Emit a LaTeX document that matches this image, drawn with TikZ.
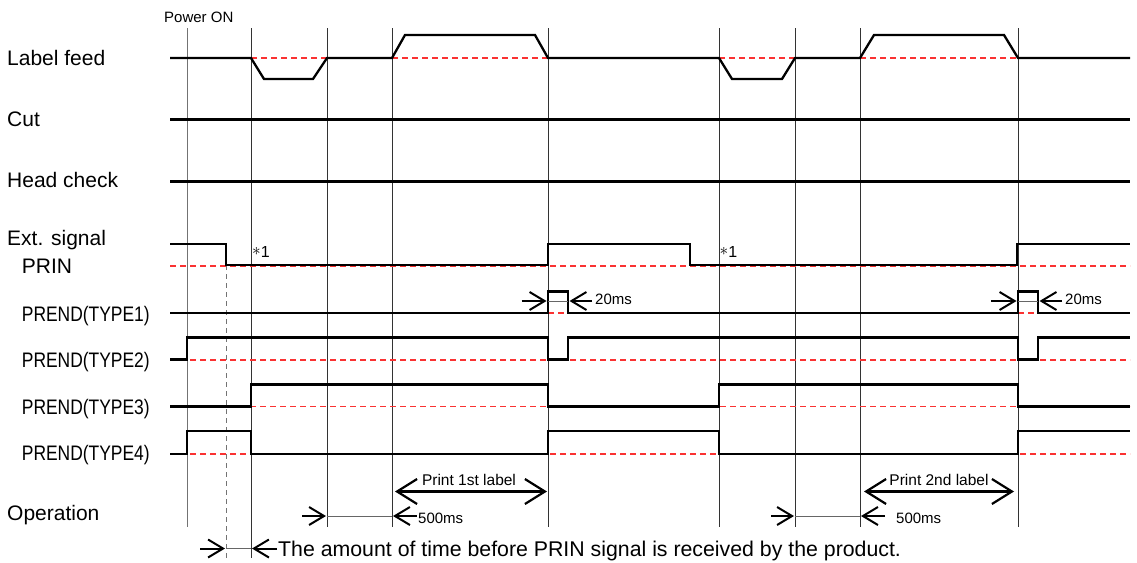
\documentclass[tikz,border=0pt]{standalone}
\usepackage{graphicx}
\usepackage{fontspec}
\setmainfont{Liberation Sans}
\usetikzlibrary{arrows.meta}
\definecolor{refred}{RGB}{250,50,50}
\begin{document}
\begin{tikzpicture}[x=1pt,y=-1pt,
  grid/.style={line width=0.9pt,black!80},
  gridg/.style={line width=0.9pt,black!55},
  sig/.style={line width=2.3pt,black,line join=miter},
  refl/.style={line width=1.2pt,refred,dash pattern=on 6pt off 4pt},
  dimln/.style={line width=0.8pt,black!60},
  arr/.style={line width=2pt,-{Straight Barb[length=15pt,width=18pt]}},
  bigarr/.style={line width=2.2pt,{Straight Barb[length=20pt,width=25pt]}-{Straight Barb[length=20pt,width=25pt]}},
  lab/.style={inner sep=0pt,anchor=base west,font=\fontsize{21}{24}\selectfont},
  small/.style={inner sep=0pt,anchor=base west,font=\fontsize{15}{18}\selectfont},
  star/.style={inner sep=0pt,anchor=base west,font=\fontsize{16}{18}\selectfont},
  plab/.style={inner sep=0pt,anchor=base,font=\fontsize{15.5}{18}\selectfont}]
\useasboundingbox (0,0) rectangle (1137,562);
% grid lines
\draw[gridg] (187,28) -- (187,527);
\draw[grid] (251,28) -- (251,558);
\foreach \x in {327,392,548,719,795,860,1018}{\draw[grid] (\x,28) -- (\x,527);}
\draw[line width=0.9pt,black!55,dash pattern=on 5pt off 4pt] (226,265) -- (226,560);
% reference (red dashed) lines
\draw[refl] (251,58) -- (327,58) (392,58) -- (548,58) (719,58) -- (795,58) (860,58) -- (1018,58);
\draw[refl] (170,266) -- (1130,266);
\draw[refl] (548,313) -- (568,313) (1018,313) -- (1038,313);
\draw[refl] (170,360) -- (1130,360);
\draw[refl] (170,406.5) -- (1130,406.5);
\draw[refl] (170,454) -- (1130,454);
% signals
\draw[sig] (170,58) -- (251,58) -- (264,79) -- (313,79) -- (327,58) -- (392,58) -- (405,35) -- (535,35) -- (548,58) -- (719,58) -- (732,79) -- (782,79) -- (795,58) -- (860,58) -- (874,35) -- (1004,35) -- (1018,58) -- (1130,58);
\draw[sig] (170,119.5) -- (1130,119.5);
\draw[sig] (170,181.5) -- (1130,181.5);
\draw[sig] (170,244) -- (226,244) -- (226,265) -- (548,265) -- (548,244) -- (690,244) -- (690,265) -- (1017,265) -- (1017,244) -- (1130,244);
\draw[sig] (170,313) -- (548,313) -- (548,291.5) -- (568,291.5) -- (568,313) -- (1018,313) -- (1018,291.5) -- (1038,291.5) -- (1038,313) -- (1130,313);
\draw[sig] (170,359.5) -- (187,359.5) -- (187,337.5) -- (548,337.5) -- (548,359.5) -- (568,359.5) -- (568,337.5) -- (1018,337.5) -- (1018,359.5) -- (1038,359.5) -- (1038,337.5) -- (1130,337.5);
\draw[sig] (170,406.5) -- (251,406.5) -- (251,384.5) -- (548,384.5) -- (548,406.5) -- (719,406.5) -- (719,384.5) -- (1018,384.5) -- (1018,406.5) -- (1130,406.5);
\draw[sig] (170,453.7) -- (187,453.7) -- (187,431.3) -- (251,431.3) -- (251,453.7) -- (548,453.7) -- (548,431.3) -- (719,431.3) -- (719,453.7) -- (1018,453.7) -- (1018,431.3) -- (1130,431.3);
% labels
\node[small] (pon) at (164,22.7) {Power ON};
\node[lab] (lf) at (7,65) {Label feed};
\node[lab] (cut) at (7,126.7) {Cut};
\node[lab] (hc) at (7,187.5) {Head check};
\node[lab] (ext) at (7,245) {Ext. signal};
\node[lab] (prin) at (21.7,273) {PRIN};
\node[lab] (t1) at (21.7,321) {\scalebox{0.83}[1]{PREND(TYPE1)}};
\node[lab] (t2) at (21.7,367.5) {\scalebox{0.83}[1]{PREND(TYPE2)}};
\node[lab] (t3) at (21.7,414) {\scalebox{0.83}[1]{PREND(TYPE3)}};
\node[lab] (t4) at (21.7,460.5) {\scalebox{0.83}[1]{PREND(TYPE4)}};
\node[lab] (op) at (7,520) {Operation};
\node[star] (s1a) at (252,257) {\raisebox{1.5pt}{$\ast$}1};
\node[star] (s1b) at (719.5,257) {\raisebox{1.5pt}{$\ast$}1};
% 20ms pulses
\draw[dimln] (548,301) -- (568,301) (1018,301) -- (1038,301);
\coordinate (p1l) at (521.5,301); \coordinate (p1a) at (546.5,301);
\coordinate (p1b) at (569.5,301); \coordinate (p1r) at (592,301);
\draw[arr] (p1l) -- (p1a);
\draw[arr] (p1r) -- (p1b);
\node[small] (ms1) at (595,304.5) {20ms};
\coordinate (p2l) at (991,301); \coordinate (p2a) at (1016.5,301);
\coordinate (p2b) at (1039.5,301); \coordinate (p2r) at (1062,301);
\draw[arr] (p2l) -- (p2a);
\draw[arr] (p2r) -- (p2b);
\node[small] (ms2) at (1065,304.5) {20ms};
% operation
\coordinate (pr1a) at (395,491.5); \coordinate (pr1b) at (547,491.5);
\draw[bigarr] (pr1a) -- (pr1b);
\node[plab] (pl1) at (469,485.5) {Print 1st label};
\coordinate (pr2a) at (864,491.5); \coordinate (pr2b) at (1014,491.5);
\draw[bigarr] (pr2a) -- (pr2b);
\node[plab] (pl2) at (939,485.5) {Print 2nd label};
\draw[dimln] (327,516) -- (392,516) (795,516) -- (860,516);
\coordinate (d1l) at (302,516); \coordinate (d1a) at (326,516);
\coordinate (d1b) at (393,516); \coordinate (d1r) at (416.5,516);
\draw[arr] (d1l) -- (d1a);
\draw[arr] (d1r) -- (d1b);
\node[small] (m500a) at (418,523) {500ms};
\coordinate (d2l) at (771,516); \coordinate (d2a) at (794,516);
\coordinate (d2b) at (861,516); \coordinate (d2r) at (885,516);
\draw[arr] (d2l) -- (d2a);
\draw[arr] (d2r) -- (d2b);
\node[small] (m500b) at (896,523) {500ms};
% bottom note
\draw[dimln] (226,548.5) -- (251,548.5);
\coordinate (b1l) at (200,548.5); \coordinate (b1a) at (225,548.5);
\coordinate (b1b) at (252,548.5); \coordinate (b1r) at (277,548.5);
\draw[arr] (b1l) -- (b1a);
\draw[arr] (b1r) -- (b1b);
\node[inner sep=0pt,anchor=base west,font=\fontsize{21.3}{24}\selectfont] (note) at (278,556.7) {The amount of time before PRIN signal is received by the product.};
\end{tikzpicture}
\end{document}
